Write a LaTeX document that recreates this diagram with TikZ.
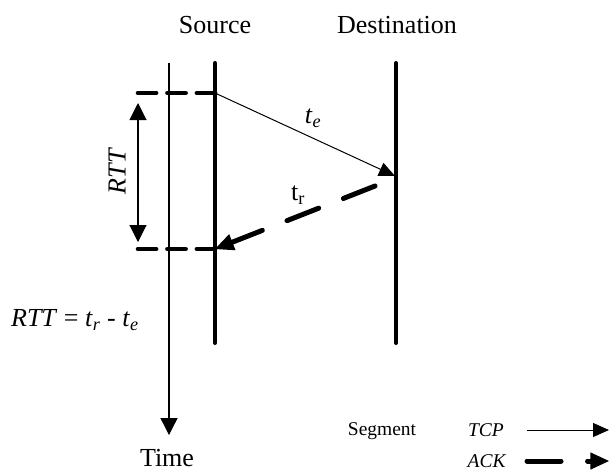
\documentclass[tikz,border=0pt]{standalone}
\usepackage{fontspec}
\setmainfont{Liberation Serif}
\usetikzlibrary{arrows.meta, positioning}

\tikzset{
  lifeline/.style={line width=3pt, line cap=round},
  timeaxis/.style={line width=1pt, -{Triangle[length=12.75pt, width=12.75pt]}},
  rttdash/.style={line width=3.6pt, line cap=round, dash pattern=on 13.5pt off 8.6pt},
  rttspan/.style={line width=0.8pt, {Triangle[length=12.75pt, width=12.75pt]}-{Triangle[length=12.75pt, width=12.75pt]}},
  tcpmsg/.style={line width=0.75pt, -{Triangle[length=12pt, width=10.5pt]}},
  ackmsg/.style={line width=3.75pt, line cap=round, dash pattern=on 25.5pt off 19.9pt, -{Triangle[length=14pt, width=13pt, line width=0pt]}},
  legend/.style={font=\fontsize{14.6}{17}\selectfont}
}

\begin{document}
\begin{tikzpicture}[x=0.75pt, y=-0.75pt, font=\fontsize{19.5}{23}\selectfont]
  \useasboundingbox (0,0) rectangle (609,472);

  % Lifelines
  \node (src) at (215,25) {Source};
  \node (dst) at (397,25) {Destination};
  \node (time) at (167,458) {Time};
  \coordinate (t0) at (169,63);
  \coordinate (t1) at (169,435);
  \coordinate (s0) at (215,63);
  \coordinate (s1) at (215,343);
  \coordinate (d0) at (396,63);
  \coordinate (d1) at (396,343);
  \draw[timeaxis] (t0) -- (t1);
  \draw[lifeline] (s0) -- (s1);
  \draw[lifeline] (d0) -- (d1);

  % Segments
  \coordinate (sent) at (215,93);
  \coordinate (recv) at (395,176);
  \coordinate (back) at (375,186);
  \coordinate (ackd) at (215,249);
  \draw[tcpmsg] (sent) -- (recv);
  \draw[ackmsg] (back) -- (ackd);
  \node (te) at (313,118) {\textit{t}\textsubscript{\textit{e}}};
  \node (tr) at (298,195) {t\textsubscript{r}};

  % RTT
  \coordinate (m0) at (138,93);
  \coordinate (m1) at (138,249);
  \coordinate (r0) at (138,103);
  \coordinate (r1) at (138,242);
  \draw[rttdash] (sent) -- (m0);
  \draw[rttdash] (ackd) -- (m1);
  \draw[rttspan] (r0) -- (r1);
  \node[rotate=90] (rtt) at (117,171) {\textit{RTT}};
  \node (eq) at (75,320) {\textit{RTT} = \textit{t}\textsubscript{\textit{r}} - \textit{t}\textsubscript{\textit{e}}};

  % Legend
  \begin{scope}[legend]
    \node (seg) at (382,431) {Segment};
    \node (tcp) at (486,430) {\textit{TCP}};
    \node (ack) at (487,461) {\textit{ACK}};
    \coordinate (l0) at (527,430);
    \coordinate (l1) at (609,430);
    \coordinate (l2) at (527,461);
    \coordinate (l3) at (609,461);
    \draw[tcpmsg] (l0) -- (l1);
    \draw[ackmsg] (l2) -- (l3);
  \end{scope}
\end{tikzpicture}
\end{document}
